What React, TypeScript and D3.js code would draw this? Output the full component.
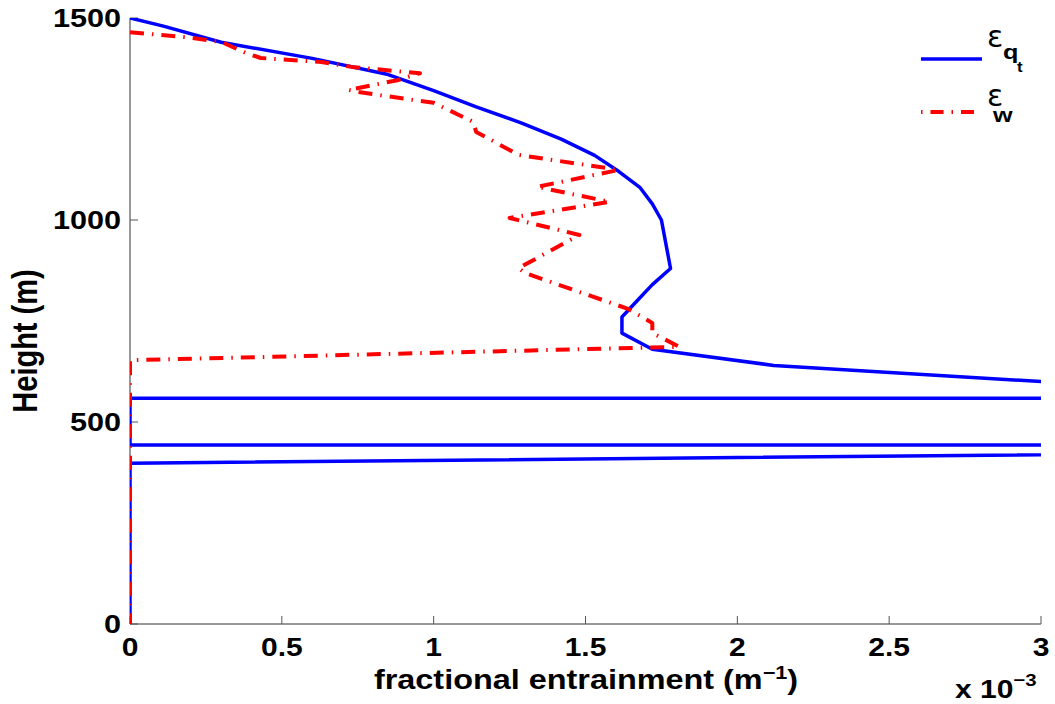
import * as d3 from 'd3'

const WIDTH = 1055
const HEIGHT = 704
const BOX = { left: 130, right: 1041, top: 18, bottom: 624 }
const SX = 1.2 // text in the figure is stretched sideways

// eps_qt profile (x 10^-3 m^-1, height m). Points beyond 3e-3 are clipped like the original axes.
const QT_VALUE = [0, 0.11, 0.3, 0.6, 0.85, 1.0, 1.14, 1.29, 1.42, 1.53, 1.61, 1.68, 1.72, 1.75, 1.76, 1.77, 1.78, 1.72, 1.67, 1.62, 1.62, 1.72, 2.12, 3.0, 900, 0, 0, 900, 20, 0, 0]
const QT_HEIGHT = [1500, 1480, 1440, 1400, 1360, 1320, 1280, 1240, 1200, 1160, 1120, 1080, 1040, 1000, 960, 920, 880, 840, 800, 760, 720, 680, 640, 600, 560, 559, 443, 443, 538, 398, 0]

// eps_w profile
const W_VALUE = [0, 0.19, 0.3, 0.38, 0.43, 0.63, 0.73, 0.955, 0.88, 0.72, 0.75, 1.0, 1.13, 1.14, 1.28, 1.61, 1.34, 1.58, 1.25, 1.48, 1.28, 1.3, 1.64, 1.72, 1.72, 1.81, 0, 0]
const W_HEIGHT = [1465, 1452, 1441, 1414, 1401, 1391, 1379, 1363, 1346, 1322, 1317, 1290, 1243, 1218, 1161, 1124, 1082, 1045, 1005, 963, 881, 869, 780, 745, 720, 686, 653, 0]

const X_TICKS = [0, 0.5, 1, 1.5, 2, 2.5, 3]
const X_TICK_LABELS = ['0', '0.5', '1', '1.5', '2', '2.5', '3']
const Y_TICKS = [0, 500, 1000, 1500]
const Y_TICK_LABELS = ['0', '500', '1000', '1500']

const FONT = "'Liberation Sans', Arial, sans-serif"

export default function App() {
  const x = d3.scaleLinear().domain([0, 3]).range([BOX.left, BOX.right])
  const y = d3.scaleLinear().domain([0, 1500]).range([BOX.bottom, BOX.top])

  const line = d3.line<[number, number]>()
    .x(d => x(d[0]))
    .y(d => y(d[1]))

  const qt = QT_VALUE.map((v, i) => [v, QT_HEIGHT[i]] as [number, number])
  const w = W_VALUE.map((v, i) => [v, W_HEIGHT[i]] as [number, number])

  return (
    <div style={{ position: 'absolute', left: 0, top: 0 }}>
      <svg width={WIDTH} height={HEIGHT} style={{ display: 'block', background: '#fff' }}>
        <defs>
          <clipPath id="plot-area">
            <rect x={BOX.left} y={BOX.top} width={BOX.right - BOX.left} height={BOX.bottom - BOX.top} />
          </clipPath>
        </defs>

        {/* axes */}
        <line x1={BOX.left} x2={BOX.left} y1={BOX.top} y2={BOX.bottom} stroke="#333" strokeWidth={1} />
        <line x1={BOX.left} x2={BOX.right} y1={BOX.bottom} y2={BOX.bottom} stroke="#333" strokeWidth={1} />

        {X_TICKS.map((t, i) => (
          <g key={`xt-${i}`}>
            <line x1={x(t)} x2={x(t)} y1={BOX.bottom} y2={BOX.bottom - 8} stroke="#555" />
            <text transform={`translate(${x(t)},${656}) scale(${SX},1)`} textAnchor="middle"
              fontFamily={FONT} fontWeight="bold" fontSize={25} fill="#000">{X_TICK_LABELS[i]}</text>
          </g>
        ))}

        {Y_TICKS.map((t, i) => (
          <g key={`yt-${i}`}>
            <line x1={BOX.left} x2={BOX.left + 8} y1={y(t)} y2={y(t)} stroke="#555" />
            <text transform={`translate(${121},${y(t) + 9}) scale(${SX},1)`} textAnchor="end"
              fontFamily={FONT} fontWeight="bold" fontSize={25.5} fill="#000">{Y_TICK_LABELS[i]}</text>
          </g>
        ))}

        {/* curves */}
        <g clipPath="url(#plot-area)">
          <path d={line(qt) ?? ''} fill="none" stroke="#0000ff" strokeWidth={3.5} strokeLinejoin="round" />
          <path d={line(w) ?? ''} fill="none" stroke="#ff0000" strokeWidth={4}
            strokeDasharray="14,8,1.5,8" strokeLinejoin="round" />
        </g>

        {/* axis labels */}
        <text transform={`translate(${586},${689}) scale(${SX},1)`} textAnchor="middle"
          fontFamily={FONT} fontWeight="bold" fontSize={27} fill="#000">
          fractional entrainment (m<tspan dy={-10} fontSize={18}>−1</tspan><tspan dy={10}>)</tspan>
        </text>
        <text transform={`translate(${955},${698}) scale(${SX},1)`}
          fontFamily={FONT} fontWeight="bold" fontSize={25} fill="#000">
          x 10<tspan dy={-12} fontSize={17}>−3</tspan>
        </text>
        <text transform={`translate(${37},${341}) rotate(-90) scale(1,${SX})`} textAnchor="middle"
          fontFamily={FONT} fontWeight="bold" fontSize={29} fill="#000">Height (m)</text>

        {/* legend */}
        <line x1={921} x2={982} y1={59} y2={59} stroke="#0000ff" strokeWidth={3.5} />
        <text transform={`translate(${987},${47})`} fontFamily="'DejaVu Sans', sans-serif" fontSize={30} fill="#000">ε</text>
        <text transform={`translate(${1003},${59}) scale(${SX},1)`} fontFamily={FONT} fontWeight="bold" fontSize={21} fill="#000">q</text>
        <text transform={`translate(${1017},${72}) scale(${SX},1)`} fontFamily={FONT} fontWeight="bold" fontSize={14} fill="#000">t</text>

        <line x1={921} x2={982} y1={112} y2={112} stroke="#ff0000" strokeWidth={4}
          strokeDasharray="13,8,1.5,8" strokeDashoffset={21} />
        <text transform={`translate(${987},${106})`} fontFamily="'DejaVu Sans', sans-serif" fontSize={30} fill="#000">ε</text>
        <text transform={`translate(${993},${122}) scale(${SX},1)`} fontFamily={FONT} fontWeight="bold" fontSize={21} fill="#000">w</text>
      </svg>
    </div>
  )
}
